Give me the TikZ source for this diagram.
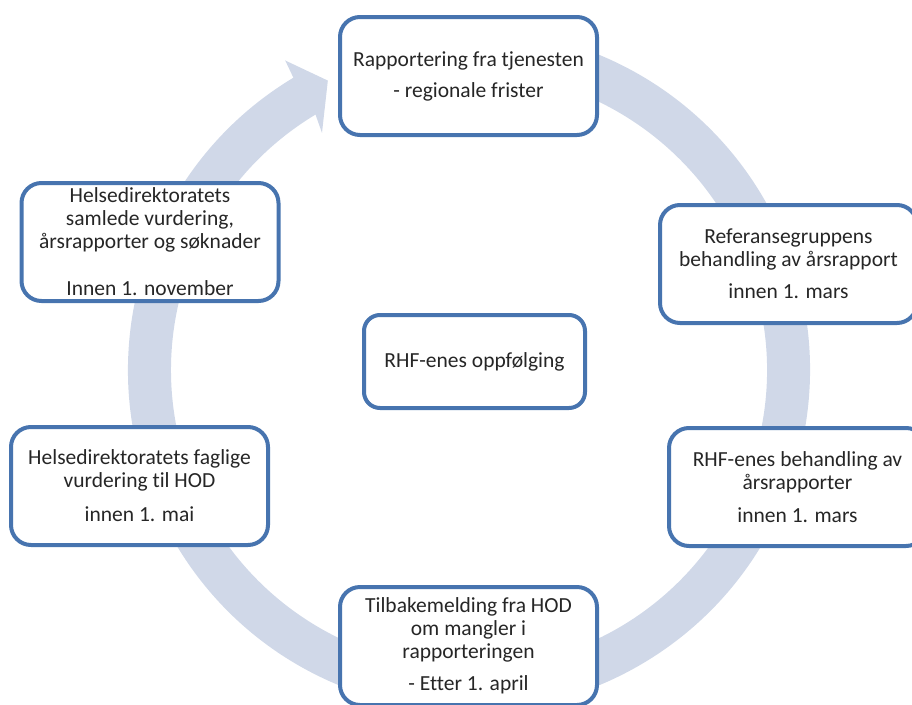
\documentclass[tikz,border=0pt]{standalone}
\usepackage{fontspec}
\setmainfont{Carlito}[Ligatures=NoCommon]
\usepackage{xcolor}
\definecolor{kant}{RGB}{71,116,175}
\definecolor{sirkel}{RGB}{208,216,232}

\begin{document}
\begin{tikzpicture}[x=1pt, y=-1pt,
  boks/.style={draw=kant, line width=4pt, rounded corners=20pt, fill=white,
    minimum width=257pt, minimum height=118pt, inner sep=2pt, align=center,
    text=black!85, font=\fontsize{21.5}{23}\selectfont}]
\useasboundingbox (0,0) rectangle (912,704);
% sirkelpil
\begin{scope}[shift={(469,370)}]
\fill [sirkel] (121:341pt) arc [start angle=121, end angle=465, radius=341pt]
  -- (465:298pt) arc [start angle=465, end angle=121, radius=298pt]
  -- (121.8:279pt) -- (116:322pt) -- (120.7:360pt) -- cycle;
\end{scope}
% bokser
\node [boks] (rapp) at (468.5,76) {Rapportering fra tjenesten\\[8pt]- regionale frister};
\node [boks] (ref) at (788.5,264) {Referansegruppens\\behandling av årsrapport\\[9pt]innen 1. mars};
\node [boks] (rhfb) at (797.5,487) {RHF-enes behandling av\\årsrapporter\\[10pt]innen 1. mars};
\node [boks] (tilb) at (468.5,646) {Tilbakemelding fra HOD\\om mangler i\\rapporteringen\\[9pt]- Etter 1. april};
\node [boks] (fagl) at (139.5,486) {Helsedirektoratets faglige\\vurdering til HOD\\[11pt]innen 1. mai};
\node [boks] (saml) at (150,242) {Helsedirektoratets\\samlede vurdering,\\årsrapporter og søknader\\[24pt]Innen 1. november};
% midten
\node [boks, rounded corners=16pt, minimum width=221pt, minimum height=93pt] (oppf) at (474.5,361.5) {RHF-enes oppfølging};
\end{tikzpicture}
\end{document}
